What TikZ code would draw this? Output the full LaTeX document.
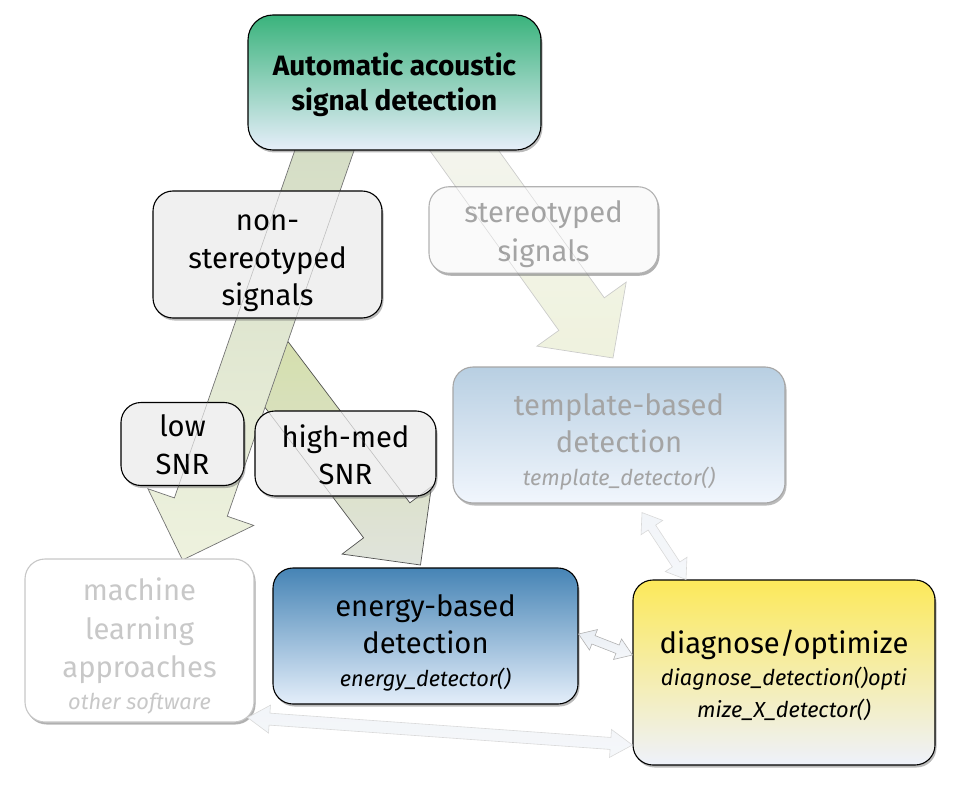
\documentclass[tikz,border=0pt]{standalone}
\usepackage{fontspec}
\setmainfont{Fira Sans}
\usetikzlibrary{calc,shadows}

\definecolor{autotop}{HTML}{3AB37C}
\definecolor{autobot}{HTML}{E6EEFA}
\definecolor{engtop}{HTML}{4684B5}
\definecolor{engbot}{HTML}{E4EEFA}
\definecolor{diagtop}{HTML}{FCE95A}
\definecolor{diagbot}{HTML}{EEF1FB}
\definecolor{temptop}{HTML}{B8CFE2}
\definecolor{tempbot}{HTML}{F1F6FD}
\definecolor{labfill}{HTML}{F0F0F0}
\definecolor{fadetext}{HTML}{A4A4A4}
\definecolor{mltext}{HTML}{C8C8C8}
\definecolor{arrAtop}{HTML}{D3DCC4}
\definecolor{arrAbot}{HTML}{EEF2DE}
\definecolor{arrBtop}{HTML}{D0DCA2}
\definecolor{arrBbot}{HTML}{DCE0D8}
\definecolor{arrCtop}{HTML}{F3F4EE}
\definecolor{arrCbot}{HTML}{EDF1DA}
\definecolor{dbltop}{HTML}{E9EEF4}
\definecolor{dblbot}{HTML}{F5F7FA}

\newcommand{\mainsize}{\fontsize{29.2}{37.5}\selectfont}
\newcommand{\fnsize}{\fontsize{21.8}{26}\selectfont\itshape}
% centred lines; optional arg lowers the text by half its value
\newcommand{\stack}[2][0pt]{\raisebox{0pt}[\dimexpr\height+#1\relax][\depth]{\begin{tabular}{@{}c@{}}#2\end{tabular}}}

% block arrow: style, from, to, half shaft, half head, head length
\newcommand{\blockarrow}[6]{%
  \coordinate (bahead) at ($(#3)!#6!(#2)$);
  \draw[#1] ($(#2)!#4!90:(#3)$) -- ($(bahead)!#4!90:(#3)$) -- ($(bahead)!#5!90:(#3)$) -- (#3)
    -- ($(bahead)!#5!-90:(#3)$) -- ($(bahead)!#4!-90:(#3)$) -- ($(#2)!#4!-90:(#3)$) -- cycle;
}
% double block arrow: style, end, end, half shaft, half head, head length
\newcommand{\dblarrow}[6]{%
  \coordinate (dbA) at ($(#2)!#6!(#3)$);
  \coordinate (dbB) at ($(#3)!#6!(#2)$);
  \draw[#1] (#2) -- ($(dbA)!#5!90:(#3)$) -- ($(dbA)!#4!90:(#3)$) -- ($(dbB)!#4!-90:(#2)$)
    -- ($(dbB)!#5!-90:(#2)$) -- (#3) -- ($(dbB)!#5!90:(#2)$) -- ($(dbB)!#4!90:(#2)$)
    -- ($(dbA)!#4!-90:(#3)$) -- ($(dbA)!#5!-90:(#3)$) -- cycle;
}

\begin{document}
\begin{tikzpicture}[x=1pt,y=-1pt,
box/.style={rectangle,rounded corners=20pt,draw,line width=1.1pt,inner sep=0pt,font=\mainsize,
  drop shadow={shadow xshift=1.5pt,shadow yshift=-2.5pt,fill=black!60,opacity=.45}},
labelbox/.style={box,fill=labfill},
fadebox/.style={box,draw=black!30,fill=white!98!black,text=fadetext,
  drop shadow={shadow xshift=1.5pt,shadow yshift=-2pt,fill=black!40,opacity=.3}},
bigA/.style={draw=black!55,line width=.7pt,top color=arrAtop,bottom color=arrAbot},
bigB/.style={draw=black!75,line width=.7pt,top color=arrBtop,bottom color=arrBbot,opacity=.9},
bigC/.style={draw=black!22,line width=.7pt,top color=arrCtop,bottom color=arrCbot,opacity=.9},
seethru/.style={draw=black!60,draw opacity=.35,line width=.6pt},
dbl/.style={draw=black!30,line width=.6pt,top color=dbltop,bottom color=dblbot},
dblfade/.style={draw=black!15,line width=.6pt,top color=dbltop!60,bottom color=dblbot}]
\useasboundingbox (0,0) rectangle (960,786);

% where the arrows start and end
\path (394.5,82.5) coordinate (autoc);
\coordinate (a1s) at ($(autoc)+(-63,47.5)$);
\coordinate (a3s) at ($(autoc)+(55,47.5)$);
\path (267.5,254.5) coordinate (nonstc);
\coordinate (a2s) at ($(nonstc)+(-9.5,95.5)$);
\path (139.5,559) coordinate (mltop);
\coordinate (a1e) at ($(mltop)+(43,1)$);
\path (425.5,568) coordinate (engtop);
\coordinate (a2e) at ($(engtop)+(-5,-3)$);
\path (619,367) coordinate (temptopc);
\coordinate (a3e) at ($(temptopc)+(-6,-9)$);

% big arrows
\blockarrow{bigC}{a3s}{a3e}{28pt}{55pt}{54pt}
\blockarrow{bigB}{a2s}{a2e}{29pt}{56pt}{56pt}
\blockarrow{bigA}{a1s}{a1e}{28pt}{56pt}{56pt}

\node[box,minimum width=293pt,minimum height=135pt,rounded corners=25pt,top color=autotop,bottom color=autobot,
  font=\fontsize{28}{35}\selectfont\bfseries] (auto) at (autoc) {\stack[8pt]{Automatic acoustic\\signal detection}};

\node[labelbox,minimum width=229pt,minimum height=127pt] (nonst) at (nonstc) {\stack[12pt]{non-\\stereotyped\\signals}};
\node[fadebox,minimum width=229pt,minimum height=86pt] (stereo) at (543.5,230) {\stack[10pt]{stereotyped\\[1.5pt]signals}};
\node[labelbox,minimum width=123pt,minimum height=78pt] (low) at (182.5,444) {\stack[8pt]{low\\SNR}};
\node[labelbox,minimum width=181pt,minimum height=77pt] (highmed) at (345.5,453.5) {\stack[10pt]{high-med\\SNR}};

% arrow edges seen through the label boxes
\begin{scope}
\clip (nonst.south west) rectangle (nonst.north east) (low.south west) rectangle (low.north east);
\blockarrow{seethru}{a1s}{a1e}{28pt}{56pt}{56pt}
\end{scope}
\begin{scope}
\clip (highmed.south west) rectangle (highmed.north east);
\blockarrow{seethru}{a2s}{a2e}{29pt}{56pt}{56pt}
\end{scope}
\begin{scope}
\clip (stereo.south west) rectangle (stereo.north east);
\blockarrow{seethru,draw opacity=.2}{a3s}{a3e}{28pt}{55pt}{54pt}
\end{scope}

\node[box,draw=black!35,top color=temptop,bottom color=tempbot,text=fadetext,minimum width=332pt,minimum height=136pt]
  (templ) at (619,435) {\stack[16pt]{template-based\\[-0.5pt]detection\\[-4.5pt]{\fnsize template\_detector()}}};
\node[box,draw=black!22,fill=white,text=mltext,minimum width=229pt,minimum height=163pt,
  drop shadow={shadow xshift=1.5pt,shadow yshift=-2pt,fill=black!40,opacity=.3}]
  (ml) at (139.5,640.5) {\stack[14pt]{machine\\[1pt]learning\\[0.5pt]approaches\\[-5.5pt]{\fnsize other software}}};
\node[box,top color=engtop,bottom color=engbot,minimum width=305pt,minimum height=136pt]
  (energy) at (425.5,636) {\stack[15pt]{energy-based\\[-0.5pt]detection\\[-4.5pt]{\fnsize energy\_detector()}}};
\node[box,top color=diagtop,bottom color=diagbot,minimum width=302pt,minimum height=185pt]
  (diag) at (784,672.5) {\stack[10pt]{diagnose/optimize\\[-5.5pt]{\fnsize diagnose\_detection()opti}\\[-5.5pt]{\fnsize mize\_X\_detector()}}};

% small double arrows
\coordinate (d4a) at ($(templ.south)+(23,9)$);
\coordinate (d4b) at ($(diag.north)+(-98,0)$);
\dblarrow{dblfade}{d4a}{d4b}{4.5pt}{13pt}{18pt}
\coordinate (d5a) at ($(energy.east)+(0,-2)$);
\coordinate (d5b) at ($(diag.west)+(0,-17.5)$);
\dblarrow{dbl}{d5a}{d5b}{4.5pt}{11pt}{16pt}
\coordinate (d6a) at ($(ml.south east)+(-7,-5)$);
\coordinate (d6b) at ($(diag.west)+(0,72.5)$);
\dblarrow{dblfade}{d6a}{d6b}{6pt}{14pt}{22pt}
\end{tikzpicture}
\end{document}
